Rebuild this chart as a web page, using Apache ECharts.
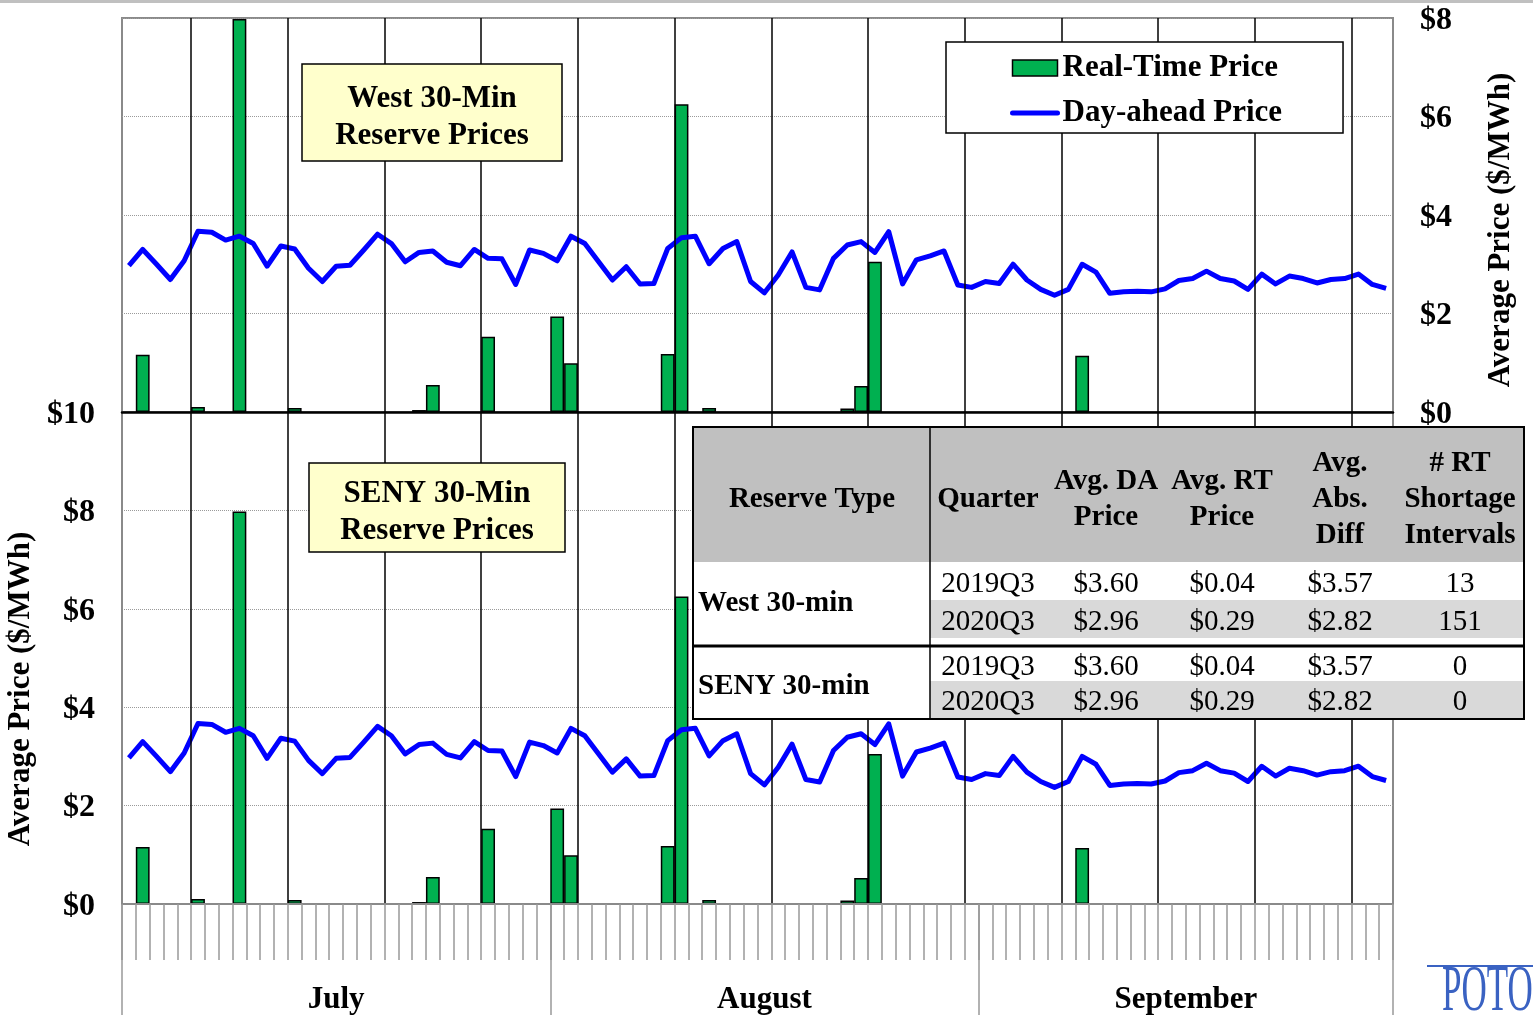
<!DOCTYPE html>
<html><head><meta charset="utf-8">
<script src="https://cdn.jsdelivr.net/npm/echarts@6/dist/echarts.min.js"></script>
<style>html,body{margin:0;padding:0;background:#fff}#c{width:1533px;height:1015px}</style>
</head><body><div id="c"></div>
<script>
// ---------- data ----------
const monthNames = ['July', 'August', 'September'];
const monthNums = [7, 8, 9];
const monthLengths = [31, 31, 30];

// Real-time 30-min reserve price (daily average, $/MWh), Jul 1 .. Sep 30
const rtPrice = [
  0, 1.16, 0, 0, 0, 0.10, 0, 0, 7.98, 0,
  0, 0, 0.08, 0, 0, 0, 0, 0, 0, 0,
  0, 0.04, 0.55, 0, 0, 0, 1.53, 0, 0, 0,
  0, 1.94, 0.99, 0, 0, 0, 0, 0, 0, 1.18,
  6.25, 0, 0.08, 0, 0, 0, 0, 0, 0, 0,
  0, 0, 0.07, 0.53, 3.05, 0, 0, 0, 0, 0,
  0, 0, 0, 0, 0, 0, 0, 0, 0, 1.14,
  0, 0, 0, 0, 0, 0, 0, 0, 0, 0,
  0, 0, 0, 0, 0, 0, 0, 0, 0, 0,
  0, 0
];
// Day-ahead 30-min reserve price (daily average, $/MWh)
const daPrice = [
  2.97, 3.30, 3.00, 2.69, 3.07, 3.67, 3.65, 3.49, 3.57, 3.42,
  2.96, 3.37, 3.31, 2.92, 2.65, 2.96, 2.98, 3.29, 3.61, 3.42,
  3.05, 3.24, 3.27, 3.04, 2.97, 3.30, 3.12, 3.11, 2.59, 3.29,
  3.22, 3.07, 3.57, 3.42, 3.05, 2.68, 2.95, 2.60, 2.61, 3.32,
  3.54, 3.57, 3.01, 3.32, 3.46, 2.65, 2.42, 2.78, 3.25, 2.53,
  2.48, 3.12, 3.39, 3.46, 3.24, 3.66, 2.60, 3.09, 3.17, 3.27,
  2.58, 2.53, 2.65, 2.61, 3.00, 2.68, 2.49, 2.37, 2.49, 3.00,
  2.84, 2.41, 2.44, 2.45, 2.44, 2.50, 2.67, 2.71, 2.86, 2.71,
  2.66, 2.49, 2.80, 2.60, 2.76, 2.71, 2.62, 2.69, 2.71, 2.80,
  2.59, 2.51
];

const topAxisMax = 8;
const bottomAxisMax = 10;
const axisStep = 2;

const panelTitles = ['West 30-Min\nReserve Prices', 'SENY 30-Min\nReserve Prices'];
const seriesNames = ['Real-Time Price', 'Day-ahead Price'];
const axisTitle = 'Average Price ($/MWh)';

const tableHeader = ['Reserve Type', 'Quarter', 'Avg. DA\nPrice', 'Avg. RT\nPrice', 'Avg.\nAbs.\nDiff', '# RT\nShortage\nIntervals'];
const tableRows = [
  ['West 30-min', '2019Q3', '$3.60', '$0.04', '$3.57', '13'],
  ['West 30-min', '2020Q3', '$2.96', '$0.29', '$2.82', '151'],
  ['SENY 30-min', '2019Q3', '$3.60', '$0.04', '$3.57', '0'],
  ['SENY 30-min', '2020Q3', '$2.96', '$0.29', '$2.82', '0']
];

// ---------- derived ----------
const days = [];
const monthStarts = [];
const monthLabelIdx = {};
const monthLabelEven = {};
monthLengths.forEach(function (n, m) {
  monthStarts.push(days.length);
  const li = days.length + Math.floor((n - 1) / 2);
  monthLabelIdx[li] = monthNames[m];
  monthLabelEven[li] = (n % 2 === 0);
  for (let d = 1; d <= n; d++) days.push(monthNums[m] + '/' + d);
});
const rtBars = rtPrice.map(function (v) { return v === 0 ? '-' : v; });

// ---------- styles ----------
const SERIF = '"Liberation Serif", "Times New Roman", serif';
const boldText = { fontFamily: SERIF, fontWeight: 'bold', fontSize: 31, color: '#000' };
const labelText = { fontFamily: SERIF, fontWeight: 'bold', fontSize: 32, color: '#000' };
const GREEN = '#00b050';
const BLUE = '#0000ff';
const GRAY = '#8a8a8a';
const TY = 3; // baseline nudge for graphic texts

const weekLine = { show: true, interval: function (i) { return i % 7 === 5; }, showMaxLine: false,
  lineStyle: { color: '#000', width: 1.5 } };
const dotted = { show: true, lineStyle: { color: '#9a9a9a', width: 1, type: 'dotted' } };

const yLabel = {
  margin: 27,
  formatter: function (v) { return '{v|$' + v + '}'; },
  rich: { v: Object.assign({ padding: [5, 0, 0, 0] }, labelText) }
};

// ---------- graphics (annotations and table) ----------
const graphics = [];
graphics.push({ type: 'rect', shape: { x: 0, y: 0, width: 1533, height: 3 }, style: { fill: '#c0c0c0' }, z: 100 });

function titleBox(x, y, w, h, txt) {
  graphics.push({ type: 'rect', shape: { x: x, y: y, width: w, height: h },
    style: { fill: '#ffffcc', stroke: '#000', lineWidth: 1.5 }, z: 100 });
  graphics.push({ type: 'text', x: x + w / 2, y: y + h / 2 + 5,
    style: { text: txt, font: 'bold 31px ' + SERIF, fill: '#000', align: 'center', verticalAlign: 'middle', lineHeight: 37 }, z: 101 });
}
titleBox(302, 64, 260, 97, panelTitles[0]);
titleBox(309, 463, 256, 89, panelTitles[1]);

// table
(function () {
  const x0 = 693, x1 = 1524, y0 = 427, yh = 562, y1 = 719, xd = 930;
  const colX = [812, 988, 1106, 1222, 1340, 1460];
  const rowBands = [[562, 600], [600, 638], [647, 681], [681, 718]];
  const Z = 110;
  graphics.push({ type: 'rect', shape: { x: x0, y: y0, width: x1 - x0, height: y1 - y0 }, style: { fill: '#fff' }, z: Z });
  graphics.push({ type: 'rect', shape: { x: x0, y: y0, width: x1 - x0, height: yh - y0 }, style: { fill: '#c0c0c0' }, z: Z });
  rowBands.forEach(function (b, i) {
    if (i % 2 === 1) graphics.push({ type: 'rect', shape: { x: xd, y: b[0], width: x1 - xd, height: b[1] - b[0] }, style: { fill: '#d9d9d9' }, z: Z });
  });
  graphics.push({ type: 'line', shape: { x1: x0, y1: 646, x2: x1, y2: 646 }, style: { stroke: '#000', lineWidth: 3 }, z: Z + 1 });
  graphics.push({ type: 'line', shape: { x1: xd, y1: y0, x2: xd, y2: y1 }, style: { stroke: '#000', lineWidth: 1.5 }, z: Z + 1 });
  graphics.push({ type: 'rect', shape: { x: x0, y: y0, width: x1 - x0, height: y1 - y0 }, style: { fill: null, stroke: '#000', lineWidth: 2 }, z: Z + 1 });
  tableHeader.forEach(function (h, c) {
    graphics.push({ type: 'text', x: colX[c], y: 497 + TY,
      style: { text: h, font: 'bold 29px ' + SERIF, fill: '#000', align: 'center', verticalAlign: 'middle', lineHeight: 36 }, z: Z + 2 });
  });
  let prev = null;
  tableRows.forEach(function (r, i) {
    const b = rowBands[i];
    const cy = (b[0] + b[1]) / 2 + TY;
    if (r[0] !== prev) {
      const nb = rowBands[i + 1];
      graphics.push({ type: 'text', x: 698, y: (b[0] + nb[1]) / 2 + TY + 1,
        style: { text: r[0], font: 'bold 29px ' + SERIF, fill: '#000', align: 'left', verticalAlign: 'middle' }, z: Z + 2 });
      prev = r[0];
    }
    for (let c = 1; c < r.length; c++) {
      graphics.push({ type: 'text', x: colX[c], y: cy,
        style: { text: r[c], font: '29px ' + SERIF, fill: '#000', align: 'center', verticalAlign: 'middle' }, z: Z + 2 });
    }
  });
})();

// logo fragment
graphics.push({ type: 'line', shape: { x1: 1427, y1: 966, x2: 1533, y2: 966 }, style: { stroke: '#3a62c2', lineWidth: 2 }, z: 100 });
graphics.push({ type: 'text', x: 1442, y: 993, scaleX: 0.53,
  style: { text: 'POTOMAC', font: '66px ' + SERIF, fill: '#3a62c2', align: 'left', verticalAlign: 'middle' }, z: 100 });

// ---------- chart ----------
const chart = echarts.init(document.getElementById('c'), null, { renderer: 'canvas' });
chart.setOption({
  animation: false,
  backgroundColor: '#fff',
  grid: [
    { left: 122, top: 18, width: 1271, height: 394, show: true, borderColor: GRAY, borderWidth: 2,
      backgroundColor: 'transparent', containLabel: false, outerBoundsMode: 'none' },
    { left: 122, top: 412, width: 1271, height: 492, show: true, borderColor: GRAY, borderWidth: 2,
      backgroundColor: 'transparent', containLabel: false, outerBoundsMode: 'none' }
  ],
  legend: {
    left: 946, top: 42, orient: 'vertical',
    padding: [10, 61, 4, 64], itemGap: 13, itemWidth: 45, itemHeight: 16,
    backgroundColor: '#fff', borderColor: '#000', borderWidth: 1.5,
    textStyle: Object.assign({ lineHeight: 32 }, boldText),
    data: [
      { name: seriesNames[0], icon: 'rect', itemStyle: { color: GREEN, borderColor: '#000', borderWidth: 1.5 } },
      { name: seriesNames[1], itemStyle: { opacity: 0 }, lineStyle: { color: BLUE, width: 5, cap: 'round' } }
    ],
    z: 50
  },
  xAxis: [
    { type: 'category', gridIndex: 0, data: days, boundaryGap: true, position: 'bottom', z: 5,
      axisLine: { show: true, lineStyle: { color: '#000', width: 2.5 } },
      axisTick: { show: false }, axisLabel: { show: false }, splitLine: weekLine },
    { type: 'category', gridIndex: 1, data: days, boundaryGap: true, position: 'bottom', z: 5,
      axisLine: { show: true, lineStyle: { color: GRAY, width: 2 } },
      axisTick: { show: true, interval: 0, length: 56, lineStyle: { color: '#999', width: 1.5 } },
      axisLabel: { show: true, interval: function (i) { return monthLabelIdx[i] !== undefined; },
        formatter: function (v, i) {
          if (!monthLabelIdx[i]) return '';
          return (monthLabelEven[i] ? '{e|' : '{o|') + monthLabelIdx[i] + '}';
        },
        rich: {
          o: Object.assign({}, boldText),
          e: Object.assign({ padding: [0, 0, 0, 14] }, boldText)
        },
        margin: 80, fontFamily: SERIF, fontWeight: 'bold', fontSize: 31, color: '#000' },
      splitLine: weekLine },
    { type: 'category', gridIndex: 1, data: days, boundaryGap: true, position: 'bottom', z: 4,
      axisLine: { show: false },
      axisTick: { show: true, interval: function (i) { return monthStarts.indexOf(i) >= 0; }, length: 111,
        lineStyle: { color: '#999', width: 1.5 } },
      axisLabel: { show: false }, splitLine: { show: false } }
  ],
  yAxis: [
    { type: 'value', gridIndex: 0, position: 'right', min: 0, max: topAxisMax, interval: axisStep,
      axisLine: { show: true, lineStyle: { color: GRAY, width: 2 } }, axisTick: { show: false },
      axisLabel: yLabel,
      splitLine: dotted,
      name: axisTitle, nameLocation: 'middle', nameRotate: 90, nameGap: 92,
      nameTextStyle: Object.assign({ padding: [0, 30, 0, 0] }, boldText) },
    { type: 'value', gridIndex: 1, position: 'left', min: 0, max: bottomAxisMax, interval: axisStep,
      axisLine: { show: true, lineStyle: { color: GRAY, width: 2 } }, axisTick: { show: false },
      axisLabel: yLabel,
      splitLine: dotted,
      name: axisTitle, nameLocation: 'middle', nameRotate: 90, nameGap: 85,
      nameTextStyle: Object.assign({ padding: [0, 62, 0, 0] }, boldText) }
  ],
  series: [
    { name: seriesNames[0], type: 'bar', xAxisIndex: 0, yAxisIndex: 0, data: rtBars,
      barCategoryGap: '0%', z: 2,
      itemStyle: { color: GREEN, borderColor: '#000', borderWidth: 1.5 } },
    { name: seriesNames[1], type: 'line', xAxisIndex: 0, yAxisIndex: 0, data: daPrice,
      symbol: 'none', showSymbol: false, z: 3,
      lineStyle: { color: BLUE, width: 5, join: 'round' }, itemStyle: { color: BLUE } },
    { name: seriesNames[0], type: 'bar', xAxisIndex: 1, yAxisIndex: 1, data: rtBars,
      barCategoryGap: '0%', z: 2,
      itemStyle: { color: GREEN, borderColor: '#000', borderWidth: 1.5 } },
    { name: seriesNames[1], type: 'line', xAxisIndex: 1, yAxisIndex: 1, data: daPrice,
      symbol: 'none', showSymbol: false, z: 3,
      lineStyle: { color: BLUE, width: 5, join: 'round' }, itemStyle: { color: BLUE } }
  ],
  graphic: { elements: graphics }
});
</script>
</body></html>
